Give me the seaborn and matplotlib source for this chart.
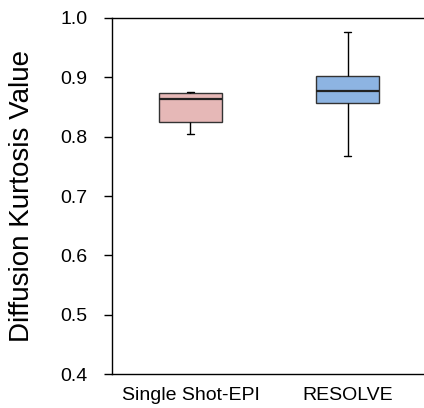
import matplotlib
matplotlib.use("Agg")
import matplotlib.pyplot as plt
import seaborn as sns
import pandas as pd

# Five-number summaries (min, Q1, median, Q3, max) for each sequence
categories = ["Single Shot-EPI", "RESOLVE"]
ss_epi = [0.8045, 0.825, 0.8635, 0.874, 0.876]
resolve = [0.768, 0.856, 0.8775, 0.902, 0.977]
colors = ["#E6B8B7", "#8DB4E2"]
yticks = [0.4, 0.5, 0.6, 0.7, 0.8, 0.9, 1.0]

sns.set_theme(style="white")
plt.rcParams["font.family"] = ["Liberation Sans", "DejaVu Sans"]
plt.rcParams["text.color"] = "black"
plt.rcParams["axes.labelcolor"] = "black"
plt.rcParams["xtick.color"] = "black"
plt.rcParams["ytick.color"] = "black"

df = pd.DataFrame({
    "method": [categories[0]] * len(ss_epi) + [categories[1]] * len(resolve),
    "value": ss_epi + resolve,
})

fig = plt.figure(figsize=(4.24, 4.08), dpi=100)
ax = fig.add_axes([0.264, 0.0833, 0.741, 0.8726])

sns.boxplot(
    data=df, x="method", y="value", hue="method", order=categories,
    palette=colors, saturation=1, legend=False, width=0.4, whis=(0, 100),
    linecolor="#333333", linewidth=1.0, ax=ax,
    medianprops={"color": "#222222", "linewidth": 1.6},
    whiskerprops={"color": "black", "linewidth": 1.0},
    capprops={"color": "black", "linewidth": 1.0},
    capwidths=0.04,
)

ax.set_xlim(-0.5, 1.5)
ax.set_ylim(0.4, 1.0)
ax.set_yticks(yticks)
ax.set_yticklabels([f"{t:.1f}" for t in yticks])
ax.set_xlabel("")
ax.set_ylabel("Diffusion Kurtosis Value", fontsize=20, labelpad=18)
ax.tick_params(axis="y", which="both", left=True, length=5.5, width=1,
               color="black", labelsize=14, pad=12)
ax.tick_params(axis="x", bottom=False, labelsize=14, pad=3)

for side in ["left", "bottom", "top"]:
    ax.spines[side].set_visible(True)
    ax.spines[side].set_color("black")
    ax.spines[side].set_linewidth(1.0)
ax.spines["right"].set_visible(False)

fig.savefig("out.png", dpi=100)
